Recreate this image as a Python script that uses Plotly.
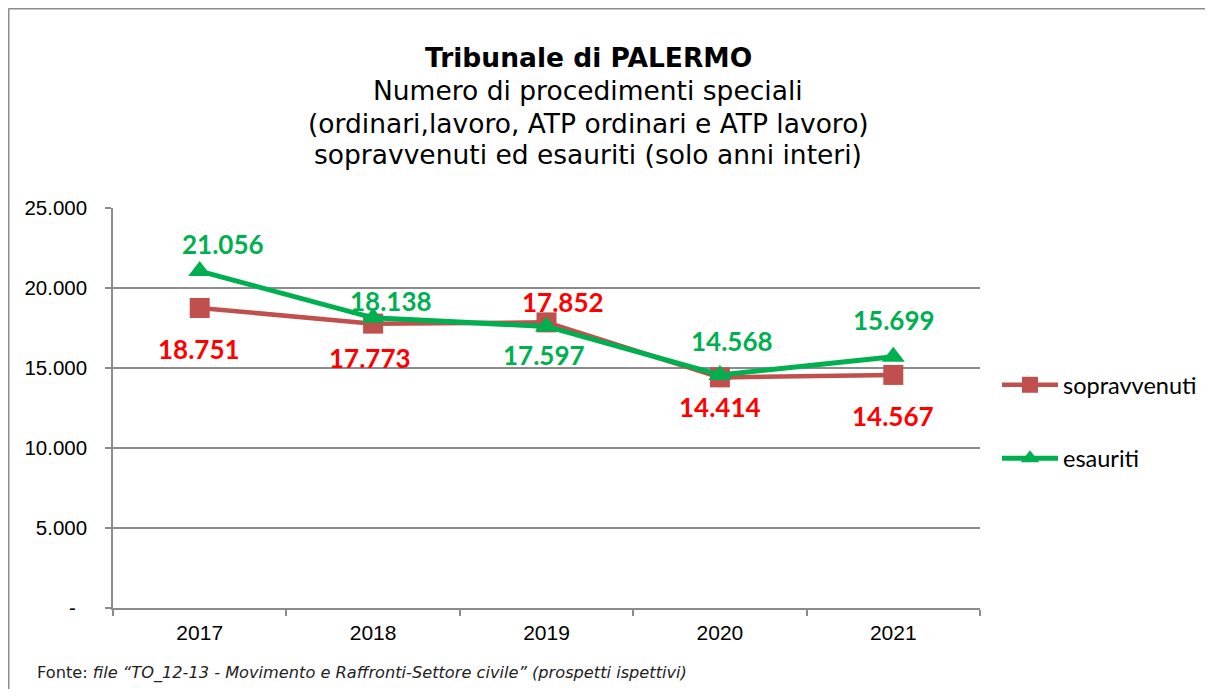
import plotly.graph_objects as go

# ---- data ----
years = ["2017", "2018", "2019", "2020", "2021"]
sopravvenuti = [18751, 17773, 17852, 14414, 14567]
esauriti = [21056, 18138, 17597, 14568, 15699]
y_tickvals = [0, 5000, 10000, 15000, 20000, 25000]
y_ticktext = ["-\u00a0\u00a0", "5.000", "10.000", "15.000", "20.000", "25.000"]

# label offsets (pixels) for data labels
sop_dx = [-1, -3, 16, 0, 0]
sop_dy = [-41, -34, 20, -30, -41]
esa_dx = [23, 18, -3, 12, 1]
esa_dy = [27, 17, -29, 34, 37]

# page has an 8px body margin; figure sized so page fits window exactly
OFF = 8
W, H = 1197, 681
ML, MT, PW, PH = 105, 200, 867, 400
MR, MB = W - ML - PW, H - MT - PH


def px_x(sx):
    return (sx - OFF - ML) / PW


def px_y(sy):
    return (H - MB - (sy - OFF)) / PH


def fmt(v):
    return f"{v:,}".replace(",", ".")


RED_LINE = "#C0504D"
GREEN = "#00B050"
RED_TXT = "#FF0000"
GRID = "#8C8C8C"
lab_font = "Lato, sans-serif"

fig = go.Figure()
fig.add_trace(go.Scatter(
    x=years, y=sopravvenuti, name="sopravvenuti", mode="lines+markers",
    line=dict(color=RED_LINE, width=4.5),
    marker=dict(symbol="square", size=20, color=RED_LINE),
    legendgroup="a",
))
fig.add_trace(go.Scatter(
    x=years, y=esauriti, name="esauriti", mode="lines+markers",
    line=dict(color=GREEN, width=5),
    marker=dict(symbol="triangle-up", size=20, color=GREEN),
    legendgroup="b",
))

annotations = []
for i, (v, dx, dy) in enumerate(zip(sopravvenuti, sop_dx, sop_dy)):
    annotations.append(dict(x=i, y=v, xref="x", yref="y", text="<b>" + fmt(v) + "</b>",
                            showarrow=False, xshift=dx, yshift=dy,
                            font=dict(family=lab_font, size=26, color=RED_TXT)))
for i, (v, dx, dy) in enumerate(zip(esauriti, esa_dx, esa_dy)):
    annotations.append(dict(x=i, y=v, xref="x", yref="y", text="<b>" + fmt(v) + "</b>",
                            showarrow=False, xshift=dx, yshift=dy,
                            font=dict(family=lab_font, size=26, color=GREEN)))

title_lines = [
    ("<b>Tribunale di PALERMO</b>", 57),
    ("Numero di procedimenti speciali", 90),
    ("(ordinari,lavoro, ATP ordinari e ATP lavoro)", 123),
    ("sopravvenuti ed esauriti (solo anni interi)", 155),
]
for txt, ypx in title_lines:
    annotations.append(dict(x=px_x(588), y=px_y(ypx), xref="paper", yref="paper",
                            text=txt, showarrow=False, xanchor="center", yanchor="middle",
                            font=dict(family="DejaVu Sans", size=26.5, color="#000000")))

annotations.append(dict(
    x=px_x(35), y=px_y(673), xref="paper", yref="paper", xanchor="left", yanchor="middle",
    text="Fonte: <i>file \u201cTO_12-13 - Movimento e Raffronti-Settore civile\u201d (prospetti ispettivi)</i>",
    showarrow=False, font=dict(family="DejaVu Sans", size=16.2, color="#222222")))

shapes = [
    dict(type="line", xref="paper", yref="paper", x0=px_x(8.5), x1=px_x(OFF + W), y0=px_y(8.5), y1=px_y(8.5),
         line=dict(color="#8C8C8C", width=2)),
    dict(type="line", xref="paper", yref="paper", x0=px_x(8.5), x1=px_x(8.5), y0=px_y(8.5), y1=px_y(OFF + H),
         line=dict(color="#8C8C8C", width=2)),
]

fig.update_layout(
    width=W, height=H,
    margin=dict(l=ML, r=MR, t=MT, b=MB, pad=0, autoexpand=False),
    paper_bgcolor="white", plot_bgcolor="white",
    annotations=annotations, shapes=shapes,
    legend=dict(x=px_x(997), y=px_y(422), xanchor="left", yanchor="middle",
                font=dict(family=lab_font, size=23.5, color="#000"), itemwidth=56,
                traceorder="grouped", tracegroupgap=40,
                bgcolor="rgba(0,0,0,0)"),
    xaxis=dict(type="category", range=[-0.5, 4.5], showgrid=False, showline=True,
               automargin=False,
               linecolor=GRID, linewidth=1.5, ticks="outside", tickson="boundaries",
               ticklen=6, tickcolor=GRID, tickwidth=1.5, ticklabelstandoff=5,
               tickfont=dict(family="Liberation Sans, Arial", size=21, color="#000")),
    yaxis=dict(range=[0, 25000], tickvals=y_tickvals, ticktext=y_ticktext,
               automargin=False,
               showgrid=True, gridcolor=GRID, gridwidth=1.5, zeroline=False,
               showline=True, linecolor=GRID, linewidth=1.5,
               ticks="outside", ticklen=6, tickcolor=GRID, tickwidth=1.5,
               ticklabelstandoff=14,
               tickfont=dict(family="Liberation Sans, Arial", size=20.5, color="#000")),
)

fig.write_html("out.html")
